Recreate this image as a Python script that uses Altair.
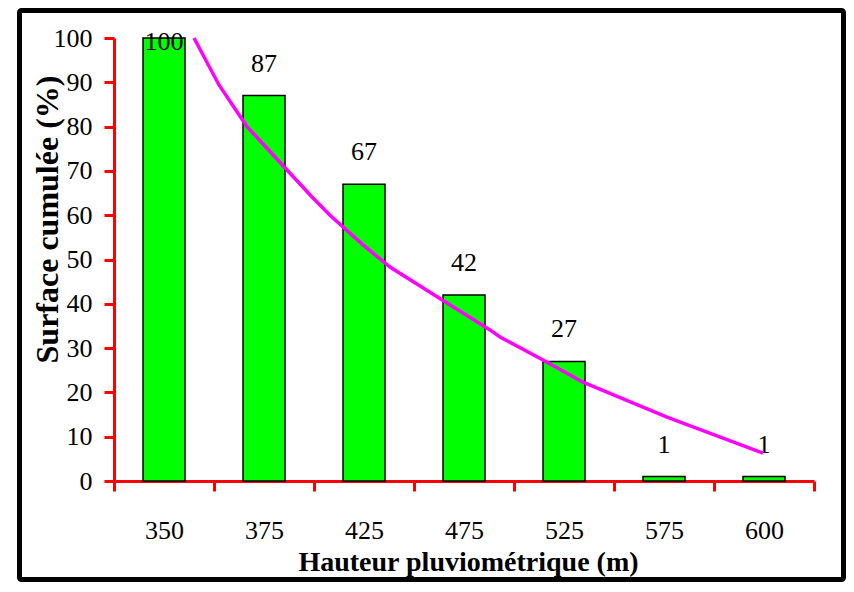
import altair as alt
import pandas as pd

categories = ["350", "375", "425", "475", "525", "575", "600"]
surface = [100, 87, 67, 42, 27, 1, 1]

# trend curve (x in category units from the left of the axis)
trend_x = [0.80, 1.05, 1.33, 1.73, 1.99, 2.16, 2.49, 2.76, 3.33, 3.76, 3.86, 4.29, 4.69, 5.53, 6.49]
trend_y = [100, 89.4, 80.0, 70.2, 63.9, 60.0, 53.3, 48.3, 40.2, 34.1, 32.5, 27.3, 22.3, 14.4, 6.3]

y_ticks = list(range(0, 101, 10))

bars_df = pd.DataFrame({"h": categories, "v": surface})
trend_df = pd.DataFrame({"tx": trend_x, "ty": trend_y})

FONT = "Liberation Serif"
yscale = alt.Scale(domain=[0, 100], nice=False, zero=True)

xenc = alt.X(
    "h:N",
    sort=categories,
    scale=alt.Scale(paddingInner=0, paddingOuter=0),
    axis=alt.Axis(
        title="Hauteur pluviométrique (m)",
        labelAngle=0,
        tickBand="extent",
        tickSize=10,
        tickWidth=3,
        tickColor="#FF0000",
        domainColor="#FF0000",
        domainWidth=3,
        labelFont=FONT,
        labelFontSize=26,
        labelColor="black",
        labelBaseline="alphabetic",
        labelPadding=47,
        titleFont=FONT,
        titleFontSize=28,
        titleFontWeight="bold",
        titleColor="black",
        titleX=354,
        titleY=89,
        titleBaseline="alphabetic",
    ),
)

yaxis = alt.Axis(
    title="Surface cumulée (%)",
    values=y_ticks,
    grid=False,
    tickSize=10,
    tickWidth=3,
    tickColor="#FF0000",
    domainColor="#FF0000",
    domainWidth=3,
    labelFont=FONT,
    labelFontSize=26,
    labelColor="black",
    labelPadding=12,
    titleFont=FONT,
    titleFontSize=32,
    titleFontWeight="bold",
    titleColor="black",
    titleX=-57,
    titleY=181,
    titleBaseline="alphabetic",
)

bars = alt.Chart(bars_df).mark_bar(
    size=42, color="#00FF00", stroke="black", strokeWidth=1.5
).encode(
    x=xenc,
    y=alt.Y("v:Q", scale=yscale, axis=yaxis),
)

labels = alt.Chart(bars_df).transform_calculate(
    ly="min(datum.v + 5.4, 97.3)"
).mark_text(
    font=FONT, fontSize=26, color="black", baseline="alphabetic", align="center"
).encode(
    x=alt.X("h:N", sort=categories),
    y=alt.Y("ly:Q", scale=yscale),
    text=alt.Text("v:Q"),
)

trend = alt.Chart(trend_df).mark_line(color="#FF00FF", strokeWidth=3.5).encode(
    x=alt.X("tx:Q", scale=alt.Scale(domain=[0, 7], nice=False, zero=False), axis=None),
    y=alt.Y("ty:Q", scale=yscale),
)

# outer frame of the chart
frame = alt.Chart(alt.Data(values=[{"a": 1}])).mark_rect(
    fill=None, fillOpacity=0, stroke="black", strokeWidth=5, cornerRadius=2
).encode(
    x=alt.value(-94.5), x2=alt.value(729.5), y=alt.value(-27.5), y2=alt.value(541.5)
)

chart = alt.layer(alt.layer(bars, labels), trend, frame).resolve_scale(
    x="independent"
).properties(
    width=700,
    height=443,
    autosize=alt.AutoSizeParams(type="none"),
    padding={"left": 106, "top": 30, "right": 32, "bottom": 101},
    background="white",
).configure_view(stroke=None).configure_axis(
    labelFont=FONT, titleFont=FONT
).configure_text(font=FONT)

chart.save("out.html", embed_options={"renderer": "svg", "actions": False})
